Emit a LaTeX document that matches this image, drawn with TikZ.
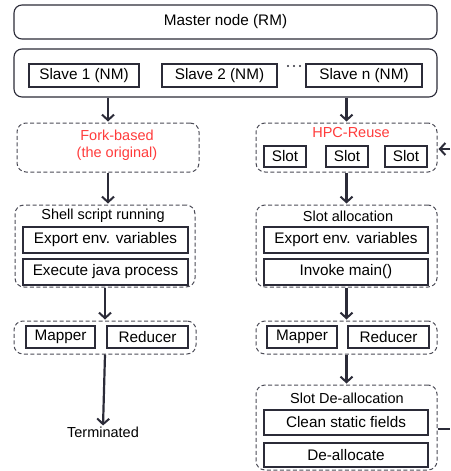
\documentclass[tikz,border=0pt]{standalone}
\usepackage{fontspec}
\setmainfont{Liberation Sans}
\usetikzlibrary{arrows.meta}
\definecolor{ink}{HTML}{2B2B38}
\definecolor{redtxt}{HTML}{FF3B3B}
\tikzset{
  sbox/.style={draw=ink, line width=1.1pt, inner sep=0pt, font=\fontsize{15.3}{18}\selectfont},
  rbox/.style={draw=ink, line width=1.1pt, rounded corners=8pt, inner sep=0pt, font=\fontsize{15.3}{18}\selectfont},
  dbox/.style={draw=ink!85, line width=1pt, dash pattern=on 4pt off 2.5pt, rounded corners=9pt, inner sep=0pt},
  ttl/.style={inner sep=0pt, font=\fontsize{14.5}{17}\selectfont},
  arr/.style={draw=ink, line width=2.2pt, -{Straight Barb[length=5.5pt,width=12pt,line width=2pt]}, shorten >=1pt},
  fbline/.style={draw=ink, line width=1.5pt}
}
\begin{document}
\begin{tikzpicture}[x=1pt,y=-1pt]
\useasboundingbox (0,0) rectangle (450,471);
% top
\node[rbox, minimum width=423pt, minimum height=34pt] (master) at (225.5,22) {Master node (RM)};
\node[rbox, minimum width=423pt, minimum height=48pt] (slaves) at (225.5,73) {};
\node[sbox, minimum width=110pt, minimum height=23pt] (s1) at (84,75.5) {Slave 1 (NM)};
\node[sbox, minimum width=115pt, minimum height=23pt] (s2) at (219.5,75.5) {Slave 2 (NM)};
\node[sbox, minimum width=116pt, minimum height=23pt] (sn) at (364,75.5) {Slave n (NM)};
\fill[ink] (288,66) circle (1.1pt) (294,66) circle (1.1pt) (300,66) circle (1.1pt);
% left column
\node[dbox, minimum width=182pt, minimum height=49pt] (fork) at (108,147.5) {};
\node[ttl, text=redtxt, align=center, font=\fontsize{14.5}{16.5}\selectfont] (forkt) at (117,145) {Fork-based\\(the original)};
\node[dbox, minimum width=180pt, minimum height=82pt] (shell) at (105,246) {};
\node[ttl] (shellt) at (103,216) {Shell script running};
\node[sbox, minimum width=165pt, minimum height=26pt] (exp1) at (105.5,240) {Export env. variables};
\node[sbox, minimum width=165pt, minimum height=26pt] (exec) at (105.5,272) {Execute java process};
\node[dbox, minimum width=182pt, minimum height=33pt] (mrL) at (105,337.5) {};
\node[sbox, minimum width=69pt, minimum height=22pt] (mapL) at (60.5,337) {Mapper};
\node[sbox, minimum width=81pt, minimum height=22pt] (redL) at (147.5,337) {Reducer};
\node[ttl] (term) at (103,432) {Terminated};
% right column
\node[dbox, minimum width=181pt, minimum height=49pt] (hpc) at (346.5,147.5) {};
\node[ttl, text=redtxt] (hpct) at (351,133) {HPC-Reuse};
\node[sbox, minimum width=42pt, minimum height=21pt] (slA) at (285,156.5) {Slot};
\node[sbox, minimum width=42pt, minimum height=21pt] (slB) at (347,156.5) {Slot};
\node[sbox, minimum width=42pt, minimum height=21pt] (slC) at (406,156.5) {Slot};
\node[dbox, minimum width=181pt, minimum height=82pt] (alloc) at (346.5,246) {};
\node[ttl] (alloct) at (348,216) {Slot allocation};
\node[sbox, minimum width=164pt, minimum height=26pt] (exp2) at (346,240) {Export env. variables};
\node[sbox, minimum width=164pt, minimum height=26pt] (invoke) at (346,272) {Invoke main()};
\node[dbox, minimum width=181pt, minimum height=33pt] (mrR) at (346.5,337.5) {};
\node[sbox, minimum width=70pt, minimum height=22pt] (mapR) at (302,337) {Mapper};
\node[sbox, minimum width=81pt, minimum height=22pt] (redR) at (388.5,337) {Reducer};
\node[dbox, minimum width=181pt, minimum height=85pt] (dealloc) at (346.5,427.5) {};
\node[ttl] (deallt) at (347,398) {Slot De-allocation};
\node[sbox, minimum width=164pt, minimum height=25pt] (clean) at (346,422.5) {Clean static fields};
\node[sbox, minimum width=164pt, minimum height=24pt] (deall) at (346,455) {De-allocate};
% arrows
\draw[arr] (fork.north |- slaves.south) -- (fork.north);
\draw[arr] (hpc.north |- slaves.south) -- (hpc.north);
\draw[arr] (fork.south) -- (fork.south |- shell.north);
\draw[arr] (shell.south) -- (mrL.north);
\draw[arr] (mrL.south) -- (term.north);
\draw[arr] (hpc.south) -- (alloc.north);
\draw[arr] (alloc.south) -- (mrR.north);
\draw[arr] (mrR.south) -- (dealloc.north);
% feedback
\coordinate (fbA) at (450,429);
\coordinate (fbB) at (450,149);
\draw[fbline] (dealloc.east |- fbA) -- (fbA);
\draw[arr] (fbB) -- (hpc.east |- fbB);
\end{tikzpicture}
\end{document}
